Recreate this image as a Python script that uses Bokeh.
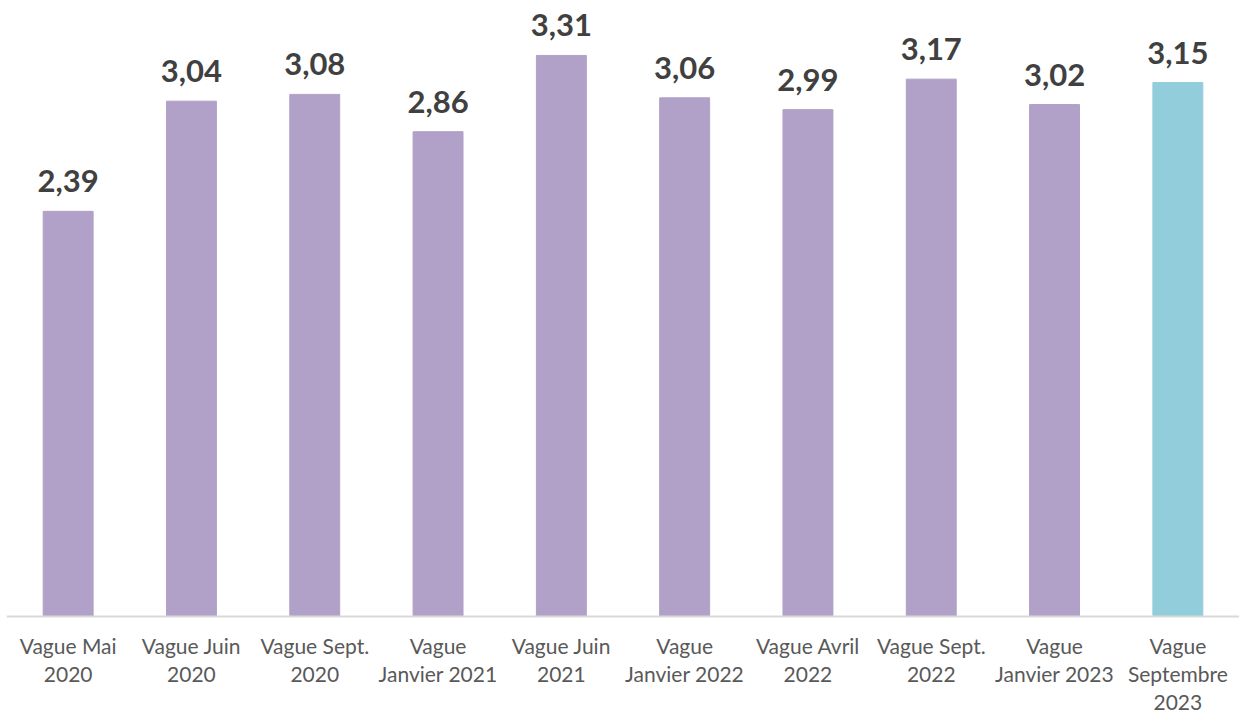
from bokeh.plotting import figure
from bokeh.models import ColumnDataSource, Range1d, Span
from bokeh.core.properties import value
from bokeh.embed import file_html
from bokeh.resources import INLINE

categories = ["Vague Mai\n2020", "Vague Juin\n2020", "Vague Sept.\n2020", "Vague\nJanvier 2021",
              "Vague Juin\n2021", "Vague\nJanvier 2022", "Vague Avril\n2022", "Vague Sept.\n2022",
              "Vague\nJanvier 2023", "Vague\nSeptembre\n2023"]
values = [2.39, 3.04, 3.08, 2.86, 3.31, 3.06, 2.99, 3.17, 3.02, 3.15]
labels = ["2,39", "3,04", "3,08", "2,86", "3,31", "3,06", "2,99", "3,17", "3,02", "3,15"]
colors = ["#B1A0C7"] * 9 + ["#92CDDC"]

keys = [str(i) for i in range(len(categories))]
src = ColumnDataSource(dict(x=keys, top=values, lab=labels, col=colors, cat=categories,
                            base=[0] * len(keys)))

p = figure(x_range=keys, width=1239, height=718, output_backend="svg", toolbar_location=None,
           min_border=0, min_border_left=6, min_border_right=0, min_border_top=0, min_border_bottom=0)
p.y_range = Range1d(-0.602, 3.634)
p.axis.visible = False
p.grid.visible = False
p.outline_line_color = None
p.x_range.range_padding = 0

p.vbar(x="x", top="top", bottom="base", width=0.405, color="col", source=src)
p.add_layout(Span(location=0, dimension="width", line_color="#D9D9D9", line_width=2))

p.text(x="x", y="top", text="lab", source=src, text_align="center", text_baseline="alphabetic",
       y_offset=-30, text_font=value("Lato"), text_font_style="bold", text_font_size="31px",
       text_color="#404040")
p.text(x="x", y="base", text="cat", source=src, text_align="center", text_baseline="top",
       y_offset=17, text_font=value("Lato"), text_font_size="21px", text_color="#595959",
       text_line_height=1.12)

open("out.html", "w").write(file_html(p, INLINE))
